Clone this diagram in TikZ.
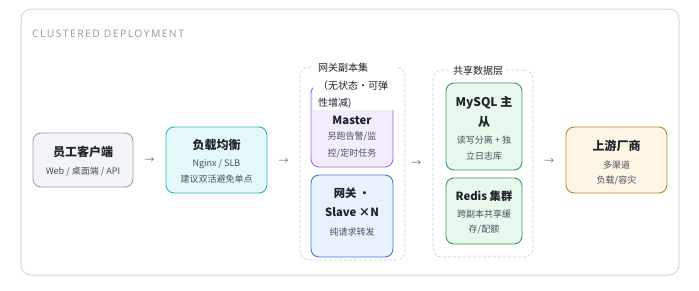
\documentclass[tikz,border=0pt]{standalone}
\usepackage{fontspec}
\setmainfont{Noto Sans CJK SC}
\newfontfamily\titlefont[LetterSpace=14]{Noto Sans}
\usetikzlibrary{calc}
\definecolor{framec}{HTML}{D7DAE2}
\definecolor{titlec}{HTML}{9AA1AC}
\definecolor{dashc}{HTML}{C9CDD5}
\definecolor{txt}{HTML}{1F2329}
\definecolor{subc}{HTML}{4A5160}
\definecolor{arrc}{HTML}{6B7280}
\definecolor{cliF}{HTML}{F3F4F8}\definecolor{cliD}{HTML}{9EA3AE}
\definecolor{lbF}{HTML}{E4F8F9}\definecolor{lbD}{HTML}{2CB4B6}
\definecolor{maF}{HTML}{F2ECFC}\definecolor{maD}{HTML}{9C6BE0}
\definecolor{slF}{HTML}{E9F1FD}\definecolor{slD}{HTML}{3D7FE0}
\definecolor{grF}{HTML}{E8F8EC}\definecolor{grD}{HTML}{3E9A58}
\definecolor{upF}{HTML}{FFF5E4}\definecolor{upD}{HTML}{B8892E}
\begin{document}
\begin{tikzpicture}[x=1pt,y=-1pt,
  box/.style={draw, rounded corners=8pt, line width=0.9pt, inner sep=0pt},
  grp/.style={draw=dashc, dashed, dash pattern=on 3pt off 2pt, rounded corners=9pt, line width=0.6pt, inner sep=0pt},
  ttl/.style={font=\bfseries\fontsize{12}{14}\selectfont, text=txt, inner sep=0pt},
  mttl/.style={font=\bfseries\fontsize{11.3}{13}\selectfont, text=txt, inner sep=0pt},
  sub/.style={font=\fontsize{9}{11}\selectfont, text=subc, inner sep=0pt},
  glab/.style={font=\fontsize{10}{12}\selectfont, text=txt, inner sep=0pt},
  arr/.style={font=\fontsize{10}{12}\selectfont, text=arrc, inner sep=0pt}]
\useasboundingbox (0,0) rectangle (699,290);
\fill[white] (0,0) rectangle (699,290);
% outer frame
\draw[framec, line width=1pt, rounded corners=10pt] (21,9) rectangle (679,275);
\node[anchor=west, text=titlec, font=\titlefont\fontsize{10.3}{12}\selectfont, inner sep=0pt] (title) at (32,34) {CLUSTERED DEPLOYMENT};

% client
\node[box, draw=cliD, fill=cliF, minimum width=100pt, minimum height=54pt] (client) at (83,160) {};
\node[ttl] (clientT) at (83,152) {员工客户端};
\node[sub] (clientS) at (83,172) {Web / 桌面端 / API};

% load balancer
\node[box, draw=lbD, fill=lbF, minimum width=101pt, minimum height=66pt] (lb) at (216.5,160) {};
\node[ttl] (lbT) at (216.5,145) {负载均衡};
\node[sub] (lbS1) at (216.5,164) {Nginx / SLB};
\node[sub] (lbS2) at (216.5,179) {建议双活避免单点};

% gateway group
\node[grp, minimum width=105pt, minimum height=193pt] (gw) at (352.5,163.5) {};
\node[box, draw=maD, fill=maF, minimum width=82pt, minimum height=82pt] (master) at (352,126) {};
\fill[white] (312.5,58) rectangle (397,110);
\node[glab, anchor=west] (gwL1) at (318,68) {网关副本集};
\node[glab, anchor=west] (gwL2) at (318,86) {（无状态·可弹};
\node[glab, anchor=west] (gwL3) at (318,103) {性增减)};
\node[mttl] (masterT) at (352,120) {Master};
\node[sub] (masterS1) at (352,137) {另跑告警/监};
\node[sub] (masterS2) at (352,153) {控/定时任务};
\node[box, draw=slD, fill=slF, minimum width=82pt, minimum height=82pt] (slave) at (352,216) {};
\node[mttl] (slaveT1) at (352,193) {网关 ·};
\node[mttl] (slaveT2) at (352,212) {Slave ×N};
\node[sub] (slaveS) at (352,232) {纯请求转发};

% data group
\node[grp, minimum width=100pt, minimum height=187pt] (data) at (483,163.5) {};
\node[glab, fill=white, inner xsep=3pt, inner ysep=1pt] (dataL) at (478,71) {共享数据层};
\node[box, draw=grD, fill=grF, minimum width=76pt, minimum height=87pt] (mysql) at (484,126.5) {};
\node[ttl] (mysqlT1) at (484,103) {MySQL 主};
\node[ttl] (mysqlT2) at (484,122) {从};
\node[sub] (mysqlS1) at (484,140) {读写分离 + 独};
\node[sub] (mysqlS2) at (484,156) {立日志库};
\node[box, draw=grD, fill=grF, minimum width=76pt, minimum height=66pt] (redis) at (484,211) {};
\node[mttl] (redisT) at (484,196) {Redis 集群};
\node[sub] (redisS1) at (484,214) {跨副本共享缓};
\node[sub] (redisS2) at (484,230) {存/配额};

% upstream
\node[box, draw=upD, fill=upF, minimum width=101pt, minimum height=66pt] (up) at (616.5,160) {};
\node[ttl] (upT) at (616.5,146) {上游厂商};
\node[sub] (upS1) at (616.5,165) {多渠道};
\node[sub] (upS2) at (616.5,180) {负载/容灾};

% arrows
\node[arr] (a1) at ($(client.east)!0.5!(lb.west)$) {→};
\node[arr] (a2) at ($(lb.east)!0.5!(gw.west)$) {→};
\node[arr] (a3) at ($(gw.east)!0.4!(data.west)$) {→};
\node[arr] (a4) at ($(data.east)!0.5!(up.west)$) {→};
\end{tikzpicture}
\end{document}
